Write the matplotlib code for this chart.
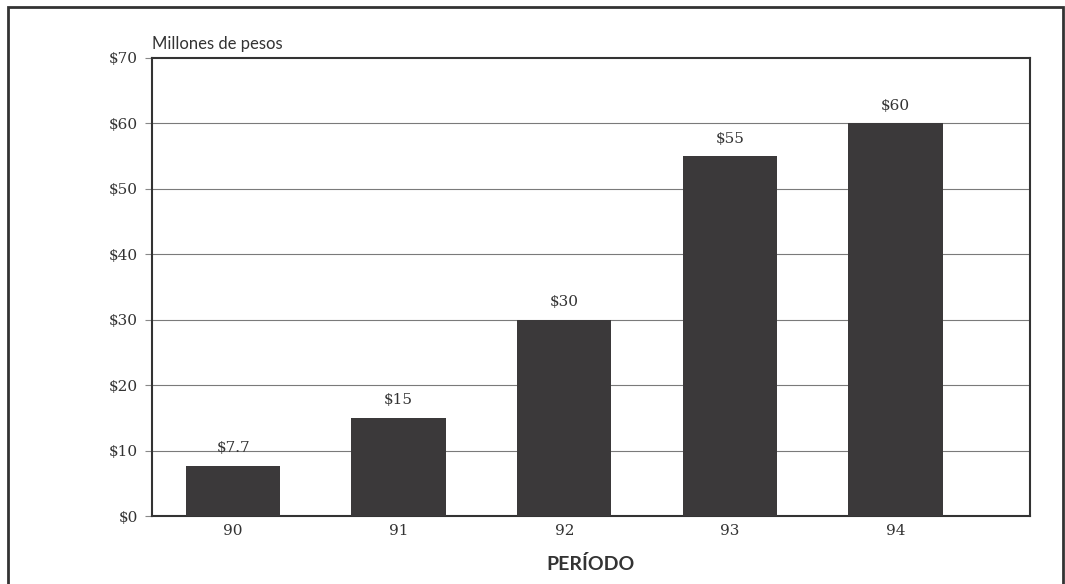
import matplotlib.pyplot as plt
from matplotlib.patches import Rectangle

# Datos
periodos = ['90', '91', '92', '93', '94']
montos = [7.7, 15, 30, 55, 60]
etiquetas = ['$7.7', '$15', '$30', '$55', '$60']
yticks = [0, 10, 20, 30, 40, 50, 60, 70]

serif = ['DejaVu Serif']
sans = ['Lato', 'DejaVu Sans']

fig = plt.figure(figsize=(10.65, 5.84), dpi=100)
ax = fig.add_axes([0.1427, 0.1164, 0.824, 0.7843])

x = list(range(len(periodos)))
ax.bar(x, montos, width=0.57, color='#3b393a', zorder=3)

for xi, v, t in zip(x, montos, etiquetas):
    ax.text(xi, v + 1.6, t, ha='center', va='bottom', fontsize=11,
            family=serif, color='#333333')

ax.set_xlim(-0.49, 4.81)
ax.set_ylim(0, 70)
ax.set_yticks(yticks)
ax.set_yticklabels(['$%d' % t for t in yticks], family=serif, fontsize=11, color='#333333')
ax.set_xticks(x)
ax.set_xticklabels(periodos, family=serif, fontsize=11, color='#333333')
ax.tick_params(axis='x', length=0, pad=6)
ax.tick_params(axis='y', length=5, width=0.8, color='#888888', pad=5)

for t in yticks[1:-1]:
    ax.axhline(t, color='#7a7a7a', lw=0.8, zorder=1)

for s in ax.spines.values():
    s.set_color('#333333')
    s.set_linewidth(1.5)

ax.text(0.0, 1.012, 'Millones de pesos', transform=ax.transAxes, ha='left',
        va='bottom', fontsize=12, family=sans, color='#333333')
ax.set_xlabel('PERÍODO', family=sans, fontsize=14, fontweight='bold',
              color='#333333', labelpad=12)

# marco exterior
fig.patches.append(Rectangle((8 / 1065, -0.05), 1055 / 1065, 1.05 - 7 / 584,
                             transform=fig.transFigure, fill=False,
                             edgecolor='#333333', lw=2))

fig.savefig('out.png', dpi=100)
